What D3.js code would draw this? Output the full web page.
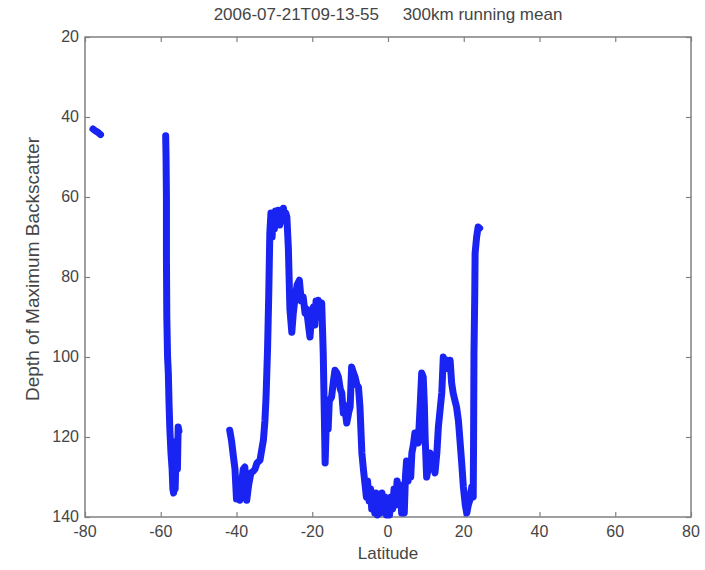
<!DOCTYPE html>
<html>
<head>
<meta charset="utf-8">
<script src="https://cdn.jsdelivr.net/npm/d3@7"></script>
<style>
    body { margin: 0; background: #fff; }
    text { font-family: 'Liberation Sans', Arial, sans-serif; fill: #454545; }
</style>
</head>
<body>
<svg id="chart" width="705" height="570"></svg>
<script>
// Track data, null marks a gap in the track
const latitude = [
    -77.9, -77.2, -76.5, -75.9,
    null,
    -58.7, -58.6, -58.5, -58.5, -58.4, -58.2, -58.0, -57.8, -57.6, -57.3, -57.0, -56.8, -56.6, -56.4, -56.2,
    -56.0, -55.8, -55.6, -55.4, -55.2,
    null,
    -41.8, -41.3, -40.8, -40.4, -40.0, -39.5, -39.1, -38.6, -38.2, -37.8, -37.5, -37.3, -36.8, -36.2, -35.5,
    -35.1, -34.6, -33.8, -33.3, -32.9, -32.5, -32.2, -31.8, -31.5, -31.2, -30.9, -30.6, -30.3, -30.0, -29.7,
    -29.4, -29.0, -28.6, -28.2, -27.9, -27.6, -27.3, -27.0, -26.7, -26.3, -25.9, -25.4, -25.0, -24.6, -24.0,
    -23.4, -22.9, -22.4, -21.9, -21.5, -21.0, -20.6, -20.2, -19.7, -19.3, -19.0, -18.7, -18.4, -17.9, -17.5,
    -17.1, -16.8, -16.6, -16.4, -16.2, -15.8, -15.5, -14.9, -14.4, -14.0, -13.5, -13.1, -12.6, -12.2, -11.8,
    -11.5, -10.9, -10.4, -10.0, -9.6, -9.1, -8.7, -8.2, -7.8, -7.4, -6.9, -6.5, -6.1, -5.7, -5.4,
    -5.0, -4.6, -4.3, -3.9, -3.5, -3.2, -2.8, -2.4, -2.0, -1.6, -1.2, -0.8, -0.4, 0.0, 0.4,
    0.8, 1.2, 1.6, 2.0, 2.4, 2.8, 3.2, 3.6, 4.0, 4.3, 4.6, 4.9, 5.3, 5.6, 6.0,
    6.3, 6.7, 7.1, 7.6, 8.0, 8.5, 8.9, 9.3, 9.6, 9.8, 10.2, 10.6, 11.1, 11.7, 12.4,
    12.9, 13.3, 14.2, 14.6, 15.1, 15.5, 16.0, 16.4, 16.8, 17.2, 17.7, 18.1, 18.6, 19.0, 19.5,
    19.9, 20.4, 20.8, 21.2, 21.6, 22.1, 22.5, 22.6, 22.7, 22.9, 23.0, 23.4, 23.8, 24.2
];
const depth = [
    43.0, 43.5, 43.9, 44.4,
    null,
    44.7, 50, 60, 75, 90, 100, 104, 112, 118, 124, 128, 133, 134, 131, 133,
    126, 121, 128, 117.5, 118.5,
    null,
    118.3, 121, 125, 128, 135.5, 133, 135.8, 131, 128, 127.5, 133, 135.8, 132, 129, 128.5,
    128, 126.5, 125.8, 123, 120.8, 116, 110, 98, 85, 69, 64, 70, 64, 68, 63.5,
    67, 63.3, 67, 63.5, 66, 62.8, 66, 64, 65, 73, 88, 93.8, 89, 85.8, 82,
    80.8, 86, 85, 89, 88, 92, 95, 90, 87.5, 92, 86, 90, 85.8, 88, 86.5,
    99, 115, 126.5, 120, 114, 118, 111, 110, 106, 103.3, 104, 105, 108, 109, 114,
    112, 116.5, 114, 112.5, 102.5, 104, 105, 107, 107.5, 112.5, 124, 128, 131.5, 135, 131,
    136, 133, 138, 135, 139, 134, 139.5, 135, 139, 134, 138, 135, 139.5, 136, 139.5,
    135, 138, 133, 137, 131, 135, 132, 139, 136, 139, 130, 126, 131, 126, 130,
    124, 122, 119, 120, 121.5, 112, 104, 105, 112, 120, 130, 128, 124, 126, 129,
    124, 117.5, 109, 100, 102, 100.8, 103, 100.8, 106.5, 109, 111, 112.5, 116, 120.8, 127,
    132.5, 137, 139, 137, 135.8, 132.5, 135, 120, 99, 85, 74, 70, 67.5, 67.8
];

const xTicks = [-80, -60, -40, -20, 0, 20, 40, 60, 80];
const yTicks = [20, 40, 60, 80, 100, 120, 140];

const titleText = '2006-07-21T09-13-55     300km running mean';
const xLabelText = 'Latitude';
const yLabelText = 'Depth of Maximum Backscatter';

const svg = d3.select('#chart');

// Plot box, MATLAB style
const margin = { top: 37, right: 14, bottom: 53, left: 85 };
const width = 705 - margin.left - margin.right;
const height = 570 - margin.top - margin.bottom;

const chart = svg.append('g')
    .attr('transform', `translate(${margin.left},${margin.top})`);

// Scales (depth axis reversed)
const xScale = d3.scaleLinear().domain([-80, 80]).range([0, width]);
const yScale = d3.scaleLinear().domain([20, 140]).range([0, height]);

const axisColor = '#808080';
const tickLen = 5;

// Axes with ticks pointing inwards, labels drawn by hand below
const styleAxis = (g) => {
    g.select('.domain').remove();
    g.selectAll('.tick line').attr('stroke', axisColor).attr('stroke-width', 1.2);
    g.selectAll('.tick text').remove();
};

chart.append('g')
    .attr('transform', `translate(0,${height})`)
    .call(d3.axisBottom(xScale).tickValues(xTicks).tickSize(-tickLen))
    .call(styleAxis);
chart.append('g')
    .call(d3.axisTop(xScale).tickValues(xTicks).tickSize(-tickLen))
    .call(styleAxis);
chart.append('g')
    .call(d3.axisLeft(yScale).tickValues(yTicks).tickSize(-tickLen))
    .call(styleAxis);
chart.append('g')
    .attr('transform', `translate(${width},0)`)
    .call(d3.axisRight(yScale).tickValues(yTicks).tickSize(-tickLen))
    .call(styleAxis);

// Box
chart.append('rect')
    .attr('width', width)
    .attr('height', height)
    .attr('fill', 'none')
    .attr('stroke', axisColor)
    .attr('stroke-width', 1.5);

// Tick labels
chart.selectAll('.xlab')
    .data(xTicks)
    .join('text')
    .attr('class', 'xlab')
    .attr('x', (d) => xScale(d))
    .attr('y', height + 20)
    .attr('text-anchor', 'middle')
    .style('font-size', '16px')
    .text((d) => d);

chart.selectAll('.ylab')
    .data(yTicks)
    .join('text')
    .attr('class', 'ylab')
    .attr('x', -6)
    .attr('y', (d) => yScale(d) + 5)
    .attr('text-anchor', 'end')
    .style('font-size', '16px')
    .text((d) => d);

// Title and axis labels
svg.append('text')
    .attr('x', margin.left + width / 2)
    .attr('y', 20)
    .attr('text-anchor', 'middle')
    .style('font-size', '17px')
    .style('white-space', 'pre')
    .text(titleText);

svg.append('text')
    .attr('x', margin.left + width / 2)
    .attr('y', 559)
    .attr('text-anchor', 'middle')
    .style('font-size', '17px')
    .text(xLabelText);

svg.append('text')
    .attr('transform', 'rotate(-90)')
    .attr('x', -(margin.top + height / 2) + 8)
    .attr('y', 39)
    .attr('text-anchor', 'middle')
    .style('font-size', '19px')
    .text(yLabelText);

// The track itself
const points = latitude.map((lat, i) => ({ lat, depth: depth[i] }));

const line = d3.line()
    .defined((d) => d.lat !== null && d.depth !== null)
    .x((d) => xScale(d.lat))
    .y((d) => yScale(d.depth));

chart.append('path')
    .datum(points)
    .attr('fill', 'none')
    .attr('stroke', '#1a24f2')
    .attr('stroke-width', 7)
    .attr('stroke-linejoin', 'round')
    .attr('stroke-linecap', 'round')
    .attr('d', line);
</script>
</body>
</html>
